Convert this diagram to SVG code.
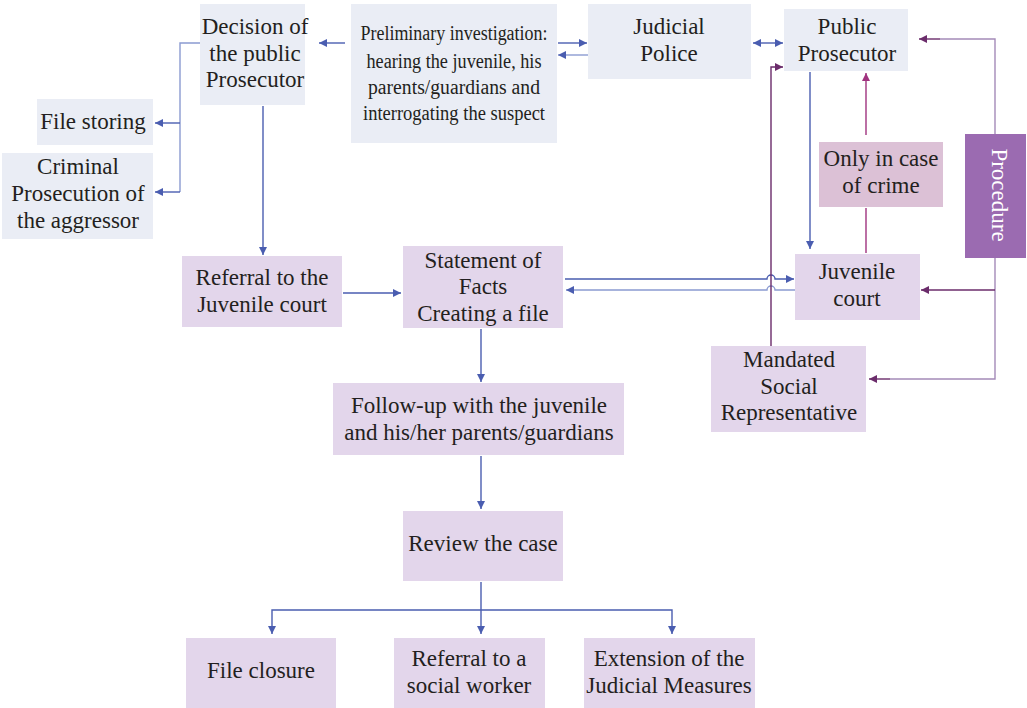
<svg xmlns="http://www.w3.org/2000/svg" width="1027" height="708" viewBox="0 0 1027 708">
  <style>
    .t { font-family: "Liberation Serif", "DejaVu Serif", serif; font-size: 23px; fill: #231f20; text-anchor: middle; }
    .tn { font-family: "Liberation Serif", "DejaVu Serif", serif; font-size: 20px; fill: #231f20; text-anchor: middle; }
    .blue { fill: #eaedf5; }
    .lav { fill: #e3d6eb; }
    .pink { fill: #dcc1d6; }
    .proc { fill: #9b6bb1; }
    .cb { fill: none; stroke: #4a5db0; stroke-width: 1.4; }
    .cl { fill: none; stroke: #8b9bd1; stroke-width: 1.4; }
    .cp { fill: none; stroke: #6b2c6b; stroke-width: 1.4; }
    .cpl { fill: none; stroke: #a48ab8; stroke-width: 1.4; }
    .cm { fill: none; stroke: #a0337f; stroke-width: 1.4; }
  </style>
  <defs>
    <marker id="ab" viewBox="0 0 10 10" refX="10" refY="5" markerWidth="8" markerHeight="8" markerUnits="userSpaceOnUse" orient="auto-start-reverse">
      <path d="M0,0 L10,5 L0,10 z" fill="#4a5db0"/>
    </marker>
    <marker id="ap" viewBox="0 0 10 10" refX="10" refY="5" markerWidth="8" markerHeight="8" markerUnits="userSpaceOnUse" orient="auto">
      <path d="M0,0 L10,5 L0,10 z" fill="#6b2c6b"/>
    </marker>
    <marker id="am" viewBox="0 0 10 10" refX="10" refY="5" markerWidth="8" markerHeight="8" markerUnits="userSpaceOnUse" orient="auto">
      <path d="M0,0 L10,5 L0,10 z" fill="#a0337f"/>
    </marker>
  </defs>

  <rect width="1027" height="708" fill="#ffffff"/>

  <!-- connectors -->
  <g id="connectors">
    <!-- investigation to decision -->
    <path class="cb" d="M345,43 H319" marker-end="url(#ab)"/>
    <!-- investigation and judicial police -->
    <path class="cb" d="M558,43 H587" marker-end="url(#ab)"/>
    <path class="cl" d="M588,55 H558" marker-end="url(#ab)"/>
    <!-- judicial police and public prosecutor -->
    <path class="cb" d="M753,43 H783" marker-start="url(#ab)" marker-end="url(#ab)"/>
    <!-- decision branches -->
    <path class="cl" d="M200,43 H180 V192"/>
    <path class="cb" d="M180,123 H155" marker-end="url(#ab)"/>
    <path class="cb" d="M180,192 H155" marker-end="url(#ab)"/>
    <path class="cb" d="M263,106 V255" marker-end="url(#ab)"/>
    <!-- referral to statement -->
    <path class="cb" d="M343,293 H401" marker-end="url(#ab)"/>
    <!-- statement and juvenile court, hopping the social representative line -->
    <path class="cb" d="M565,279 H767 a4,4 0 0 1 8,0 H794" marker-end="url(#ab)"/>
    <path class="cl" d="M795,290 H775 a4,4 0 0 0 -8,0 H566" marker-end="url(#ab)"/>
    <!-- public prosecutor to juvenile court -->
    <path class="cb" d="M810,72 V249" marker-end="url(#ab)"/>
    <!-- juvenile court through "only in case of crime" to public prosecutor -->
    <path class="cm" d="M866,253 V208"/>
    <path class="cm" d="M866,135 V73" marker-end="url(#am)"/>
    <!-- mandated social representative to public prosecutor -->
    <path class="cp" d="M771,346 V67 H783" marker-end="url(#ap)"/>
    <!-- procedure lines -->
    <path class="cpl" d="M995,134 V39 H940"/>
    <path class="cp" d="M940,39 H919" marker-end="url(#ap)"/>
    <path class="cpl" d="M995,258 V379 H890"/>
    <path class="cp" d="M995,290 H921" marker-end="url(#ap)"/>
    <path class="cp" d="M890,379 H869" marker-end="url(#ap)"/>
    <!-- main flow -->
    <path class="cb" d="M481,329 V382" marker-end="url(#ab)"/>
    <path class="cb" d="M481,456 V509" marker-end="url(#ab)"/>
    <path class="cb" d="M481,582 V634" marker-end="url(#ab)"/>
    <path class="cb" d="M272,634 V610 H672 V634" marker-start="url(#ab)" marker-end="url(#ab)"/>
  </g>

  <!-- nodes -->
  <g id="decision">
    <rect class="blue" x="200" y="4" width="105" height="101"/>
    <text class="t" x="255" y="34">Decision of</text>
    <text class="t" x="255" y="61">the public</text>
    <text class="t" x="255" y="87">Prosecutor</text>
  </g>
  <g id="investigation">
    <rect class="blue" x="351" y="4" width="206" height="139"/>
    <text class="tn" x="454" y="40" textLength="187" lengthAdjust="spacingAndGlyphs">Preliminary investigation:</text>
    <text class="tn" x="454" y="68" textLength="175" lengthAdjust="spacingAndGlyphs">hearing the juvenile, his</text>
    <text class="tn" x="454" y="94" textLength="172" lengthAdjust="spacingAndGlyphs">parents/guardians and</text>
    <text class="tn" x="454" y="120" textLength="182" lengthAdjust="spacingAndGlyphs">interrogating the suspect</text>
  </g>
  <g id="judicial-police">
    <rect class="blue" x="588" y="4" width="163" height="75"/>
    <text class="t" x="669" y="34">Judicial</text>
    <text class="t" x="669" y="61">Police</text>
  </g>
  <g id="public-prosecutor">
    <rect class="blue" x="784" y="9" width="124" height="62"/>
    <text class="t" x="847" y="34">Public</text>
    <text class="t" x="847" y="61">Prosecutor</text>
  </g>
  <g id="file-storing">
    <rect class="blue" x="37" y="99" width="116" height="46"/>
    <text class="t" x="93" y="129">File storing</text>
  </g>
  <g id="criminal-prosecution">
    <rect class="blue" x="2" y="153" width="151" height="86"/>
    <text class="t" x="78" y="174">Criminal</text>
    <text class="t" x="78" y="201">Prosecution of</text>
    <text class="t" x="78" y="228">the aggressor</text>
  </g>
  <g id="referral-court">
    <rect class="lav" x="182" y="256" width="160" height="71"/>
    <text class="t" x="262" y="285">Referral to the</text>
    <text class="t" x="262" y="312">Juvenile court</text>
  </g>
  <g id="statement">
    <rect class="lav" x="403" y="246" width="160" height="82"/>
    <text class="t" x="483" y="268">Statement of</text>
    <text class="t" x="483" y="294">Facts</text>
    <text class="t" x="483" y="321">Creating a file</text>
  </g>
  <g id="juvenile-court">
    <rect class="lav" x="795" y="254" width="125" height="66"/>
    <text class="t" x="857" y="279">Juvenile</text>
    <text class="t" x="857" y="306">court</text>
  </g>
  <g id="only-crime">
    <rect class="pink" x="819" y="142" width="124" height="65"/>
    <text class="t" x="881" y="166">Only in case</text>
    <text class="t" x="881" y="193">of crime</text>
  </g>
  <g id="procedure">
    <rect class="proc" x="965" y="134" width="61" height="124"/>
    <text class="t" x="0" y="0" style="fill:#ffffff" transform="translate(992,195) rotate(90)">Procedure</text>
  </g>
  <g id="mandated">
    <rect class="lav" x="711" y="346" width="155" height="86"/>
    <text class="t" x="789" y="367">Mandated</text>
    <text class="t" x="789" y="394">Social</text>
    <text class="t" x="789" y="420">Representative</text>
  </g>
  <g id="follow-up">
    <rect class="lav" x="333" y="383" width="291" height="72"/>
    <text class="t" x="479" y="413">Follow-up with the juvenile</text>
    <text class="t" x="479" y="440">and his/her parents/guardians</text>
  </g>
  <g id="review">
    <rect class="lav" x="403" y="511" width="160" height="70"/>
    <text class="t" x="483" y="551">Review the case</text>
  </g>
  <g id="file-closure">
    <rect class="lav" x="186" y="638" width="150" height="70"/>
    <text class="t" x="261" y="678">File closure</text>
  </g>
  <g id="referral-social">
    <rect class="lav" x="394" y="638" width="151" height="70"/>
    <text class="t" x="469" y="666">Referral to a</text>
    <text class="t" x="469" y="693">social worker</text>
  </g>
  <g id="extension">
    <rect class="lav" x="584" y="638" width="171" height="70"/>
    <text class="t" x="669" y="666">Extension of the</text>
    <text class="t" x="669" y="693">Judicial Measures</text>
  </g>
</svg>
